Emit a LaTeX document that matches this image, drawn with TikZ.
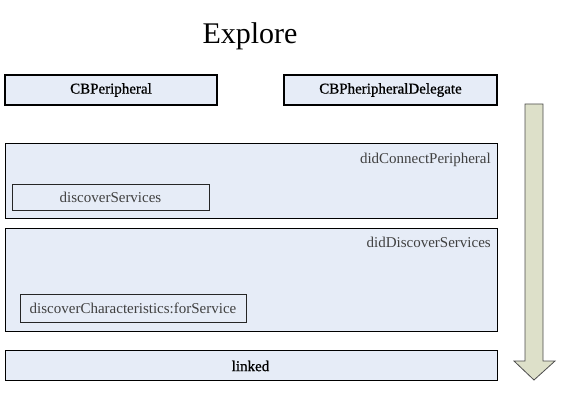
\documentclass[tikz,border=0pt]{standalone}
\usepackage{fontspec}
\setmainfont{Liberation Serif}
\newfontfamily\heavyserif[FakeBold=0.8]{Liberation Serif}
\begin{document}
\begin{tikzpicture}[x=1pt,y=-1pt,
  box/.style={draw=black,fill=boxfill,line width=0.8pt},
  headbox/.style={draw=black,fill=boxfill,line width=1.6pt},
  inner/.style={draw=black!85,line width=0.8pt},
  lbl/.style={font=\fontsize{15}{17}\selectfont,text=black!75,inner sep=0pt},
  hlbl/.style={font=\heavyserif\fontsize{15}{17}\selectfont,text=black,inner sep=0pt}]
\definecolor{boxfill}{HTML}{E6ECF7}
\definecolor{arrowfill}{HTML}{DDE0C9}
\useasboundingbox (0,0) rectangle (563,420);
\node[font=\fontsize{30}{34}\selectfont,inner sep=0pt] (title) at (250,36) {Explore};
% header boxes
\draw[headbox] (5,75) rectangle (217,105);
\node[hlbl] (cbp) at (111,90) {CBPeripheral};
\draw[headbox] (284,75) rectangle (497,105);
\node[hlbl] (cbpd) at (390.5,90) {CBPheripheralDelegate};
% didConnectPeripheral
\draw[box] (5,143) rectangle (497,218);
\node[lbl,anchor=east] (dcp) at (491,160) {didConnectPeripheral};
\draw[inner] (12,184) rectangle (209,210);
\node[lbl] (ds) at (110.5,197) {discoverServices};
% didDiscoverServices
\draw[box] (5,228) rectangle (497,331);
\node[lbl,anchor=east] (dds) at (491,242) {didDiscoverServices};
\draw[inner] (20,294) rectangle (246,322);
\node[lbl] (dc) at (133,308) {discoverCharacteristics:forService};
% linked
\draw[box] (5,350) rectangle (497,380);
\node[hlbl] (lk) at (250.5,366) {linked};
% arrow
\draw[draw=black!70,fill=arrowfill,line width=0.8pt]
  (525,104) -- (543,104) -- (543,361) -- (555,361) -- (534,380) -- (514,361) -- (525,361) -- cycle;
\end{tikzpicture}
\end{document}
